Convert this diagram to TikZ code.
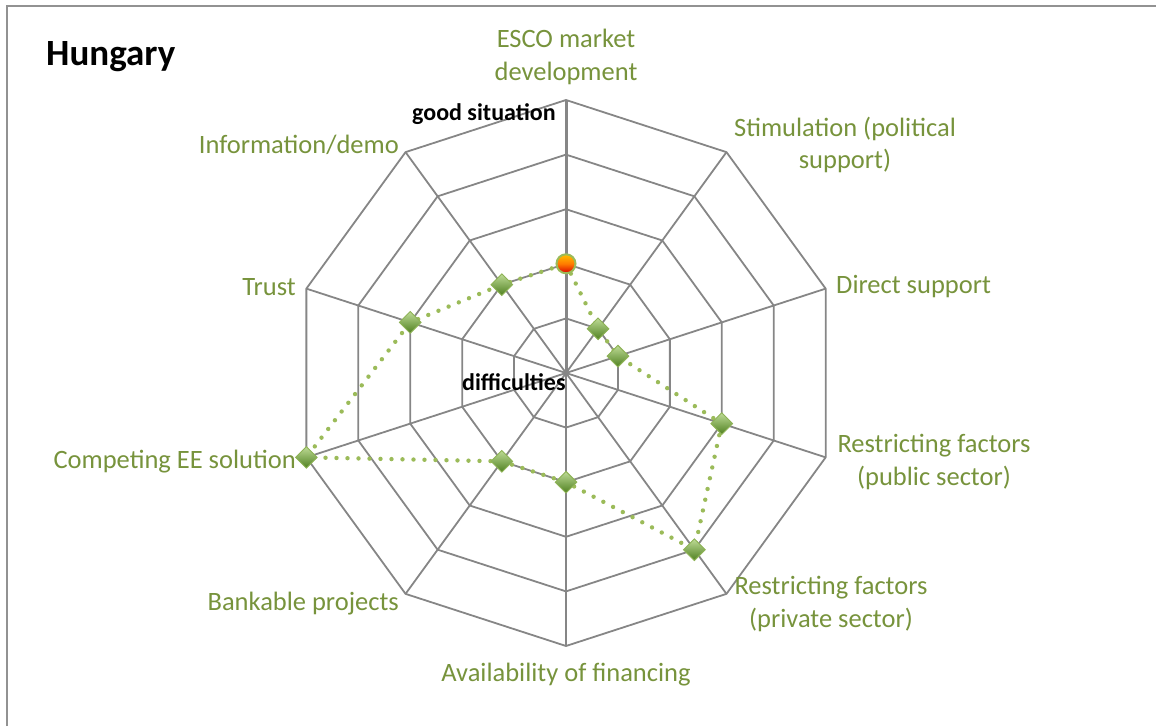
\documentclass[tikz,border=0pt]{standalone}
\usepackage{fontspec}
\setmainfont{Carlito}
\usetikzlibrary{shapes.geometric}
\definecolor{labelgreen}{HTML}{77933C}
\definecolor{gridgray}{HTML}{868686}
\definecolor{linegreen}{HTML}{9BBB59}
\definecolor{dmtop}{HTML}{BEDB96}
\definecolor{dmbot}{HTML}{4F8020}
\definecolor{dmedge}{HTML}{8DB255}
\definecolor{ctop}{HTML}{FFC000}
\definecolor{cmid}{HTML}{FF7A00}
\definecolor{cbot}{HTML}{D80000}
\tikzset{
  grid/.style={draw=gridgray, line width=1.8pt},
  axisline/.style={draw=gridgray, line width=3pt},
  dataline/.style={draw=linegreen, line width=4.4pt, line cap=round, dash pattern=on 0pt off 11pt},
  mkdiamond/.style={diamond, aspect=1, minimum size=22pt, inner sep=0pt, top color=dmtop, bottom color=dmbot, draw=dmedge, line width=0.9pt},
  mkcircle/.style={circle, minimum size=19pt, inner sep=0pt, top color=ctop, bottom color=cbot, middle color=cmid, draw=linegreen, line width=2pt},
  lbl/.style={text=labelgreen, font=\fontsize{26.5}{32.5}\selectfont, inner sep=0pt, align=center},
  note/.style={text=black, font=\fontsize{24}{28}\selectfont\bfseries, inner sep=0pt},
  frameline/.style={draw=gridgray!90, line width=1.8pt}
}
\begin{document}
\begin{tikzpicture}[x=1pt,y=1pt]
\useasboundingbox (0,0) rectangle (1156,726);
\coordinate (fb) at (7,0);
\coordinate (fc) at (7,720);
\coordinate (fr) at (1156,720);
\draw[frameline] (fb) -- (fc) -- (fr);

\begin{scope}[shift={(566,353)}]
  % rings
  \foreach \k in {1,...,5}{
    \draw[grid, line join=miter] (90:\k*54.6) \foreach \i in {1,...,9}{ -- (90+36*\i:\k*54.6)} -- cycle;
  }
  % spokes
  \foreach \i in {1,...,9}{
    \coordinate (s\i) at (90-36*\i:273);
    \draw[grid] (0,0) -- (s\i);
  }
  \coordinate (O) at (0,0);
  \coordinate (s0) at (90:273);
  \draw[axisline] (O) -- (s0);
  % data
  \coordinate (p0) at (90:2*54.6);
  \coordinate (p1) at (54:1*54.6);
  \coordinate (p2) at (18:1*54.6);
  \coordinate (p3) at (-18:3*54.6);
  \coordinate (p4) at (-54:4*54.6);
  \coordinate (p5) at (-90:2*54.6);
  \coordinate (p6) at (-126:2*54.6);
  \coordinate (p7) at (-162:5*54.6);
  \coordinate (p8) at (162:3*54.6);
  \coordinate (p9) at (126:2*54.6);
  \draw[dataline] (p0) -- (p1) -- (p2) -- (p3) -- (p4) -- (p5) -- (p6) -- (p7) -- (p8) -- (p9) -- cycle;
  \foreach \i in {1,...,9}{
    \node[mkdiamond] (m\i) at (p\i) {};
  }
  \node[mkcircle] (m0) at (p0) {};
\end{scope}

% labels
\node[lbl] (l0) at (566,669) {ESCO market\\development};
\node[lbl] (l1) at (845,581) {Stimulation (political\\support)};
\node[lbl, anchor=west] (l2) at (836,439) {Direct support};
\node[lbl] (l3) at (934,264) {Restricting factors\\(public sector)};
\node[lbl] (l4) at (831,122) {Restricting factors\\(private sector)};
\node[lbl] (l5) at (566,51) {Availability of financing};
\node[lbl, anchor=east] (l6) at (399,122) {Bankable projects};
\node[lbl, anchor=east] (l7) at (296,264) {Competing EE solution};
\node[lbl, anchor=east] (l8) at (296,439) {Trust};
\node[lbl, anchor=east] (l9) at (399,581) {Information/demo};

\node[anchor=west, inner sep=0pt, font=\fontsize{37}{40}\selectfont\bfseries] (title) at (46,669) {Hungary};
\node[note, anchor=west] (good) at (412,612) {good situation};
\node[note, anchor=west] (diff) at (462,344) {difficulties};
\end{tikzpicture}
\end{document}
